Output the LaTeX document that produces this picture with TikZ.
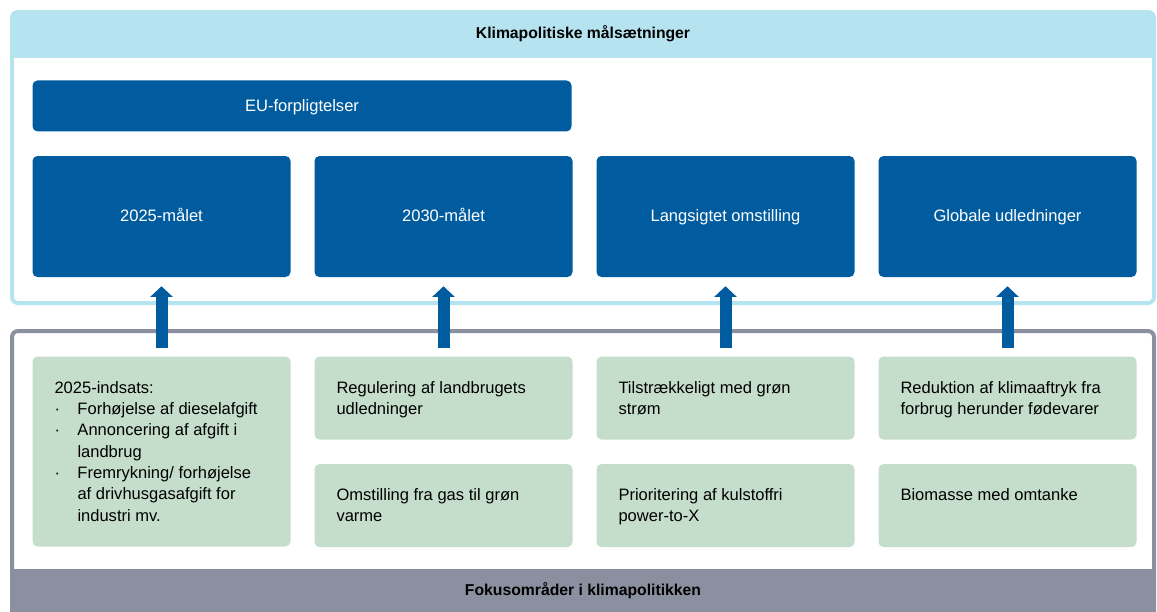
\documentclass[tikz,border=0pt]{standalone}
\usepackage{fontspec}
\setmainfont{Liberation Sans}
\usetikzlibrary{arrows.meta,positioning}

\definecolor{headblue}{HTML}{B5E3F0}
\definecolor{goalblue}{HTML}{005C9E}
\definecolor{focusgreen}{HTML}{C5DECB}
\definecolor{framegrey}{HTML}{8B90A0}

\begin{document}
\begin{tikzpicture}[
    x=0.75pt,
    y=-0.75pt,
    node distance=17.6pt,
    goal/.style={fill=goalblue, text=white, rounded corners=3.75pt,
        minimum width=193.5pt, minimum height=90.75pt, inner sep=0pt,
        text height=8pt, text depth=0pt,
        font=\fontsize{12.4}{15}\selectfont},
    focus/.style={fill=focusgreen, rounded corners=3.75pt,
        minimum width=193.5pt, minimum height=62.25pt, inner sep=0pt},
    focustext/.style={anchor=north west, inner sep=0pt, align=left,
        font=\fontsize{12.4}{16}\selectfont},
    heading/.style={inner sep=0pt, font=\bfseries\fontsize{11.8}{14}\selectfont},
    uparrow/.style={-{Triangle[width=16.5pt,length=8pt]}, goalblue,
        line width=9pt, shorten <=6.2pt, shorten >=6.75pt}
]
	\path[use as bounding box, fill=white] (0,0) rectangle (1157,611);
	\clip (0,0) rectangle (1157,611);

	% frames
	\fill[headblue] (13.5,13.5) rectangle (1152.5,58);
	\draw[headblue, line width=3pt, rounded corners=4.5pt] (12,12) rectangle (1154,303);
	\fill[framegrey] (10,569) rectangle (1156,620);
	\draw[framegrey, line width=3pt, rounded corners=4.5pt]
		(12,620) -- (12,331) -- (1154,331) -- (1154,620);

	\node[heading] (Title) at (583,33.5) {Klimapolitiske målsætninger};
	\node[heading] (Footer) at (583,591) {Fokusområder i klimapolitikken};

	% goals
	\node[goal] (Goal2025) at (161.5,216.5) {2025-målet};
	\node[goal] (Goal2030) [right=of Goal2025] {2030-målet};
	\node[goal] (GoalLong) [right=of Goal2030] {Langsigtet omstilling};
	\node[goal] (GoalGlobal) [right=of GoalLong] {Globale udledninger};
	\node[goal, minimum width=404.25pt, minimum height=38.25pt]
		(EU) [above=18pt of Goal2025.north west, anchor=south west] {EU-forpligtelser};

	% focus areas
	\node[focus, minimum height=142.5pt] (Focus2025) [below=59.25pt of Goal2025] {};
	\node[focus] (FocusLand) [below=59.25pt of Goal2030] {};
	\node[focus] (FocusHeat) [below=18pt of FocusLand] {};
	\node[focus] (FocusPower) [below=59.25pt of GoalLong] {};
	\node[focus] (FocusPtX) [below=18pt of FocusPower] {};
	\node[focus] (FocusFood) [below=59.25pt of GoalGlobal] {};
	\node[focus] (FocusBio) [below=18pt of FocusFood] {};

	\node[focustext] (Focus2025Text) at ([xshift=16.5pt,yshift=-18.4pt]Focus2025.north west) {
		2025-indsats:\\
		\makebox[17.25pt][l]{·}Forhøjelse af dieselafgift\\
		\makebox[17.25pt][l]{·}Annoncering af afgift i\\
		\hspace*{17.25pt}landbrug\\
		\makebox[17.25pt][l]{·}Fremrykning/ forhøjelse\\
		\hspace*{17.25pt}af drivhusgasafgift for\\
		\hspace*{17.25pt}industri mv.
	};
	\node[focustext] (FocusLandText) at ([xshift=16.5pt,yshift=-18.4pt]FocusLand.north west)
		{Regulering af landbrugets\\udledninger};
	\node[focustext] (FocusHeatText) at ([xshift=16.5pt,yshift=-18.4pt]FocusHeat.north west)
		{Omstilling fra gas til grøn\\varme};
	\node[focustext] (FocusPowerText) at ([xshift=16.5pt,yshift=-18.4pt]FocusPower.north west)
		{Tilstrækkeligt med grøn\\strøm};
	\node[focustext] (FocusPtXText) at ([xshift=16.5pt,yshift=-18.4pt]FocusPtX.north west)
		{Prioritering af kulstoffri\\power-to-X};
	\node[focustext] (FocusFoodText) at ([xshift=16.5pt,yshift=-18.4pt]FocusFood.north west)
		{Reduktion af klimaaftryk fra\\forbrug herunder fødevarer};
	\node[focustext] (FocusBioText) at ([xshift=16.5pt,yshift=-18.4pt]FocusBio.north west)
		{Biomasse med omtanke};

	% arrows
	\draw[uparrow] (Focus2025.north) -- (Goal2025.south);
	\draw[uparrow] (FocusLand.north) -- (Goal2030.south);
	\draw[uparrow] (FocusPower.north) -- (GoalLong.south);
	\draw[uparrow] (FocusFood.north) -- (GoalGlobal.south);
\end{tikzpicture}
\end{document}
